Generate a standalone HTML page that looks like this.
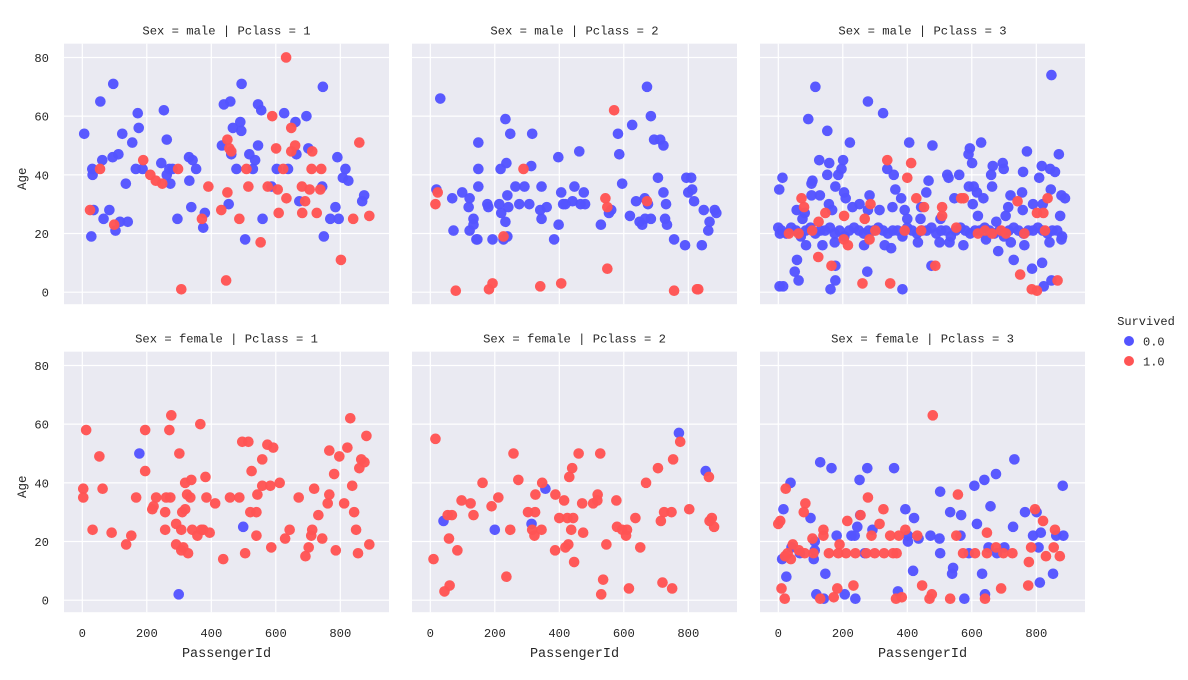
<!DOCTYPE html>
<html><head><meta charset="utf-8"><style>
body{margin:0;background:#fff;}
svg text{font-family:"Liberation Mono","WenQuanYi Zen Hei",monospace;fill:#262626;}
</style></head><body>
<svg id="chart" width="1188" height="675" viewBox="0 0 1188 675" xmlns="http://www.w3.org/2000/svg"></svg>
<script>
const xTicks=[0,200,400,600,800];
const yTicks=[0,20,40,60,80];
const panelTitles=["Sex = male | Pclass = 1","Sex = male | Pclass = 2","Sex = male | Pclass = 3","Sex = female | Pclass = 1","Sex = female | Pclass = 2","Sex = female | Pclass = 3"];
const legendLabels=["0.0","1.0"];
// male P1
const m1DiedIds=[6,31,32,35,28,56,62,66,84,96,94,103,112,117,124,135,141,155,166,172,175,187,245,253,262,262,270,273,280,295,331,342,332,338,353,380,375,433,439,459,454,462,467,478,490,493,494,505,518,529,536,545,545,555,559,587,603,626,638,661,664,673,695,701,744,746,749,769,785,791,795,816,808,825,868,874];
const m1DiedAges=[54,42,40,28,19,65,45,25,28,71,46,21,47,24,54,37,24,51,42,61,56,42,44,62,52,40,42,37,42,25,46,45,38,29,42,27,22,50,64,65,30,47,56,42,58,55,71,18,47,42,45,50,64,62,25,36,42,61,42,58,47,31,60,49,36,70,19,25,29,46,25,42,39,38,31,33];
const m1SurvIds=[24,55,99,189,211,228,248,297,307,371,391,431,446,450,450,456,462,487,509,515,553,575,589,601,606,609,623,632,633,648,648,660,681,682,691,705,711,713,727,738,741,802,840,859,890];
const m1SurvAges=[28,42,23,45,40,38,37,42,1,25,36,28,4,52,34,49,48,25,42,36,17,36,60,49,35,27,42,80,32,56,48,50,36,27,31,35,42,48,27,35,42,11,25,51,26];
// male P2
const m2DiedIds=[31,19,68,99,122,119,149,149,149,134,134,122,72,146,143,177,180,193,233,248,236,218,239,214,220,242,233,239,227,264,292,276,307,316,313,345,341,361,345,397,406,412,419,441,447,462,466,476,480,398,384,529,554,561,582,586,595,619,626,638,665,675,672,684,694,713,723,706,723,731,728,734,649,657,666,684,756,790,794,809,800,812,818,842,848,862,866,882,887];
const m2DiedAges=[66,35,32,34,32,29,51,42,36,25,23,21,21,18,18,30,29,18,59,54,44,42,33,30,27,29,24,19,18,36,36,30,30,54,43,36,28,29,25,46,34,30,30,31,36,48,30,34,30,23,18,23,27,28,54,47,37,26,57,31,32,30,70,60,52,52,50,39,34,30,25,23,24,23,25,25,18,16,39,39,34,35,31,16,28,21,24,28,27];
const m2SurvIds=[23,16,79,182,193,289,227,341,406,570,543,549,549,672,756,827,831];
const m2SurvAges=[34,30,0.5,1,3,42,19,2,3,62,32,29,8,31,0.5,1,1];
// male P3
const m3DiedIds=[115,93,152,278,325,222,406,478,629,847,870,771,594,590,601,127,158,201,196,152,186,13,3,103,106,177,204,209,103,129,338,358,363,381,466,459,524,528,561,546,591,606,616,636,665,696,699,660,663,759,817,843,858,809,845,878,889,720,756,790,820,57,82,75,157,167,230,252,283,278,314,354,392,443,400,441,503,619,603,676,705,713,758,874,0,5,86,58,51,63,4,15,177,177,162,276,385,475,682,730,787,818,823,847,350,330,266,137,175,500,531,574,644,721,763,841,878,433,
10,25,40,55,70,85,100,115,130,145,160,175,190,205,220,235,250,265,280,295,310,325,340,355,370,385,400,415,430,445,460,475,490,505,520,535,550,565,580,595,610,625,640,655,670,685,700,715,730,745,760,775,790,805,820,835,850,865,880];
const m3DiedAges=[70,59,55,65,61,51,51,50,51,74,47,48,49,47,44,45,44,45,42,40,40,39,35,37,38,36,34,32,33,33,42,40,35,32,38,34,40,39,40,32,36,36,34,32,43,44,42,40,36,41,43,42,41,39,35,33,32,33,34,30,30,28,27,25,30,28,29,30,33,28,28,29,28,29,25,25,25,26,30,24,26,29,28,26,22,20,16,11,7,4,2,2,9,4,1,7,1,9,14,11,8,10,2,4,15,16,16,16,17,17,17,16,18,17,16,17,18,17,
21,20,22,21,19,21,22,20,21,21,22,20,21,19,21,22,21,20,21,21,22,21,20,21,21,19,22,21,20,21,21,22,20,21,21,19,21,22,21,20,21,21,22,21,20,21,19,21,22,21,20,21,21,22,21,20,21,21,19];
const m3SurvIds=[72,80,33,63,105,125,146,124,165,204,203,216,268,286,283,301,261,347,338,412,400,428,452,392,443,508,508,487,552,567,575,619,641,663,691,706,742,763,750,786,802,802,822,835,827,866];
const m3SurvAges=[32,29,20,20,21,24,27,12,9,26,18,16,25,30,18,21,3,3,45,44,39,32,29,21,21,29,26,9,22,32,32,20,21,20,21,20,31,20,6,1,0.5,27,27,32,21,4];
// female P1
const f1DiedIds=[177,499,299];
const f1DiedAges=[50,25,2];
const f1SurvIds=[3,3,12,32,53,63,91,136,152,167,195,195,217,221,229,257,257,260,273,276,270,291,301,291,307,310,319,319,313,307,328,325,335,338,341,357,366,369,375,382,385,395,412,437,458,487,496,515,505,521,525,540,540,543,558,558,574,583,592,586,612,629,643,671,692,702,710,713,719,732,744,761,766,766,781,786,797,812,822,831,837,843,849,855,859,865,875,881,890];
const f1SurvAges=[38,35,58,24,49,38,23,19,22,35,58,44,31,32,35,30,24,35,35,63,58,26,50,19,24,30,31,40,18,17,16,36,35,41,24,22,60,24,24,42,35,23,33,14,35,35,54,54,16,30,44,30,22,36,48,39,53,39,52,18,40,21,24,35,15,18,22,24,38,29,21,33,36,51,43,17,49,33,52,62,39,30,24,16,45,48,47,56,19];
// female P2
const f2DiedIds=[41,200,314,357,771,854];
const f2DiedAges=[27,24,26,38,57,44];
const f2SurvIds=[16,10,44,60,58,84,54,67,97,125,134,162,190,211,236,248,258,273,303,325,316,323,345,347,326,388,387,400,415,419,428,425,443,431,440,437,446,460,471,474,505,518,519,527,536,530,546,577,579,595,610,607,616,636,651,669,706,715,725,748,720,750,753,775,803,864,873,866,880];
const f2SurvAges=[55,14,3,5,21,17,29,29,34,33,29,40,32,35,8,24,50,41,30,30,24,22,24,40,36,36,17,28,34,18,19,28,28,42,45,24,13,50,33,23,33,34,36,50,7,2,19,34,25,24,24,22,4,28,18,40,45,27,30,30,6,4,48,54,31,42,28,27,25];
// female P3
const f3DiedIds=[130,165,276,359,252,38,16,100,254,245,292,181,227,237,113,113,110,12,41,67,25,146,118,141,206,239,268,394,421,402,402,435,472,500,502,502,418,371,533,567,565,539,542,577,591,608,639,675,616,658,652,678,701,632,641,732,728,765,801,790,814,807,811,852,862,884,882];
const f3DiedAges=[47,45,45,45,41,40,31,28,29,25,24,22,22,22,20,17,14,14,18,16,8,9,2,0.5,2,0.5,16,31,28,22,20,21,22,21,16,37,10,3,30,29,22,9,11,0.5,16,39,41,43,26,32,18,16,18,9,2,48,25,30,30,22,23,18,6,9,22,22,39];
const f3SurvIds=[479,23,0,6,84,79,45,29,39,21,64,82,106,109,140,140,157,190,186,210,214,239,255,278,289,273,299,314,326,328,347,356,367,374,394,431,557,552,573,610,647,647,675,698,726,784,777,796,821,830,854,858,873,10,20,130,172,183,233,365,383,446,469,476,533,641,691,775];
const f3SurvAges=[63,38,26,27,33,30,19,16,14,15,17,16,21,16,24,22,16,19,16,16,27,16,29,35,22,16,16,26,31,16,22,16,16,22,24,22,36,22,16,16,23,16,18,16,16,18,13,31,27,15,18,24,15,4,0.5,0.5,1,4,5,0.5,1,5,0.5,2,0.5,0.5,4,5];

const panels=[
 {died:[m1DiedIds,m1DiedAges],surv:[m1SurvIds,m1SurvAges],col:0,row:0},
 {died:[m2DiedIds,m2DiedAges],surv:[m2SurvIds,m2SurvAges],col:1,row:0},
 {died:[m3DiedIds,m3DiedAges],surv:[m3SurvIds,m3SurvAges],col:2,row:0},
 {died:[f1DiedIds,f1DiedAges],surv:[f1SurvIds,f1SurvAges],col:0,row:1},
 {died:[f2DiedIds,f2DiedAges],surv:[f2SurvIds,f2SurvAges],col:1,row:1},
 {died:[f3DiedIds,f3DiedAges],surv:[f3SurvIds,f3SurvAges],col:2,row:1}
];
const NS="http://www.w3.org/2000/svg";
const svg=document.getElementById('chart');
const colX=[64,412,760], rowY=[43.7,351.7], PW=325, PH=260.5;
const BLUE="#5454ff", RED="#ff5454";
function mk(tag,attrs,parent){const e=document.createElementNS(NS,tag);for(const k in attrs)e.setAttribute(k,attrs[k]);(parent||svg).appendChild(e);return e;}
function xScale(c,v){return colX[c]+18.3+v*0.3225;}
function yScale(r,v){return rowY[r]+248.5-v*2.934;}
panels.forEach((p,i)=>{
  const g=mk('g',{});
  
  
  const bg=mk('rect',{x:colX[p.col],y:rowY[p.row],width:PW,height:PH,fill:'#eaeaf2'},g);
  
  
  xTicks.forEach(t=>{const x=xScale(p.col,t);const l=mk('line',{x1:x,x2:x,y1:rowY[p.row],y2:rowY[p.row]+PH,stroke:'#fff','stroke-width':1.2},g);
    
    });
  yTicks.forEach(t=>{const y=yScale(p.row,t);const l=mk('line',{x1:colX[p.col],x2:colX[p.col]+PW,y1:y,y2:y,stroke:'#fff','stroke-width':1.2},g);
    
    });
  const tt=mk('text',{x:colX[p.col]+PW/2,y:rowY[p.row]-9,'text-anchor':'middle','font-size':12.2},g);
  tt.textContent=panelTitles[i];
  
  
  [[p.died,BLUE,'point-died'],[p.surv,RED,'point-survived']].forEach(([d,c,n])=>{
    d[0].forEach((id,j)=>{const pt=mk('circle',{cx:xScale(p.col,id),cy:yScale(p.row,d[1][j]),r:5.3,fill:c,'fill-opacity':0.97},g);
      
      });
  });
  if(p.col===0){
    yTicks.forEach(t=>{const tl=mk('text',{x:49,y:yScale(p.row,t)+4.5,'text-anchor':'end','font-size':12.2},g);tl.textContent=t;
      
      });
    const yl=mk('text',{x:0,y:0,'text-anchor':'middle','font-size':12.5,transform:`translate(26,${rowY[p.row]+135}) rotate(-90)`},g);
    yl.textContent='Age';
    
    
  }
  if(p.row===1){
    xTicks.forEach(t=>{const tl=mk('text',{x:xScale(p.col,t),y:637,'text-anchor':'middle','font-size':12.2},g);tl.textContent=t;
      
      });
    const xl=mk('text',{x:colX[p.col]+PW/2,y:657,'text-anchor':'middle','font-size':13.5},g);
    xl.textContent='PassengerId';
    
    
  }
});
const lg=mk('g',{});


const lt=mk('text',{x:1146,y:325,'text-anchor':'middle','font-size':12},lg);
lt.textContent='Survived';


legendLabels.forEach((lab,k)=>{
  const y=341+k*20;
  const c=mk('circle',{cx:1129,cy:y,r:5,fill:k?RED:BLUE},lg);
  
  
  const t=mk('text',{x:1143,y:y+4.5,'font-size':12},lg);
  t.textContent=lab;
  
  
});
</script>
</body></html>
